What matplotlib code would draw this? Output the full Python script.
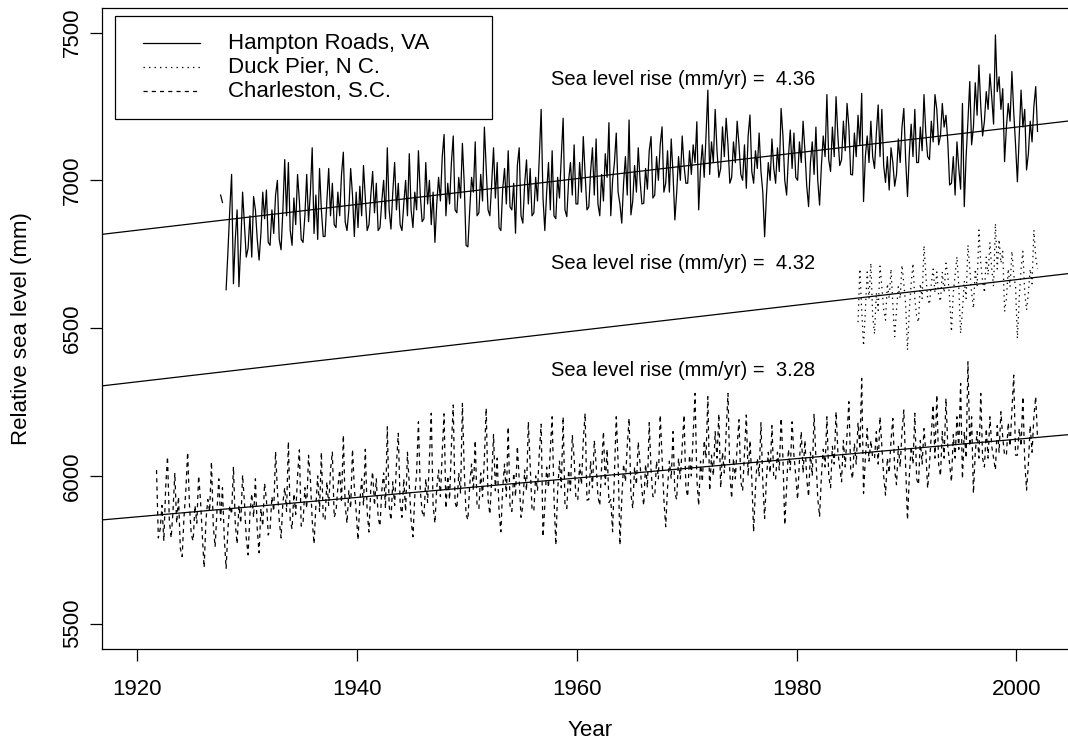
import numpy as np
import matplotlib
matplotlib.use("Agg")
import matplotlib.pyplot as plt
from matplotlib.lines import Line2D
from matplotlib.patches import Rectangle

plt.rcParams['font.family'] = ['Liberation Sans', 'DejaVu Sans']

nan = np.nan

# ---------------- data (bi-monthly readings, mm) ----------------
station_names = ["Hampton Roads, VA", "Duck Pier, N C.", "Charleston, S.C."]
rise_rates = [4.36, 4.32, 3.28]          # mm/yr (trend slopes)
level_2000 = [7180, 6664, 6124]          # trend level at year 2000
per_year = 6

hampton_start = 1927
hampton = [
    nan, nan, nan, 6950, 6925, nan,          # 1927
    6630, 6760, 6900, 7020, 6650, 6800,      # 1928
    6900, 6640, 6780, 6960, 6850, 6740,      # 1929
    6770, 6880, 6740, 6945, 6900, 6800,      # 1930
    6730, 6820, 6960, 6870, 6967, 6790,      # 1931
    6780, 6900, 6820, 6950, 7000, 6800,      # 1932
    6765, 6900, 7070, 6880, 7060, 6830,      # 1933
    6780, 6940, 6850, 7020, 6930, 6800,      # 1934
    6790, 6880, 7020, 6860, 6960, 7110,      # 1935
    6820, 6950, 6800, 7040, 6900, 6810,      # 1936
    6810, 6930, 7040, 6880, 6990, 6850,      # 1937
    6840, 6960, 6880, 7020, 7095, 6860,      # 1938
    6830, 6900, 7040, 6950, 6810, 6960,      # 1939
    6840, 6980, 6880, 7050, 6940, 6830,      # 1940
    6850, 6950, 7030, 6890, 6990, 6830,      # 1941
    6840, 6930, 7000, 6870, 7110, 6900,      # 1942
    6835, 6960, 7060, 6900, 6990, 6850,      # 1943
    6830, 6920, 7000, 6880, 7090, 6900,      # 1944
    6840, 6960, 6900, 7100, 6950, 6860,      # 1945
    6870, 7060, 6920, 7000, 6850, 6960,      # 1946
    6790, 6920, 7010, 6930, 7080, 7155,      # 1947
    6880, 6990, 6920, 7060, 7150, 6900,      # 1948
    6890, 7010, 6940, 7125, 6990, 6780,      # 1949
    6775, 6900, 7010, 6960, 7130, 6880,      # 1950
    6890, 7020, 6930, 7180, 7040, 6900,      # 1951
    6880, 6990, 7110, 6940, 7060, 6840,      # 1952
    6830, 6970, 7040, 6920, 7100, 6910,      # 1953
    6900, 6990, 6821, 7050, 7110, 6880,      # 1954
    6855, 6990, 7069, 6920, 7040, 6880,      # 1955
    6890, 7010, 6930, 7080, 7240, 6940,      # 1956
    6830, 6960, 7060, 6900, 7100, 6880,      # 1957
    6870, 7010, 6940, 7080, 7210, 6900,      # 1958
    6877, 7000, 7060, 6950, 7120, 6920,      # 1959
    6920, 7060, 6960, 7148, 7020, 6900,      # 1960
    6910, 7030, 7110, 6950, 7140, 6920,      # 1961
    6880, 7020, 6930, 7090, 7010, 7195,      # 1962
    6880, 7000, 7060, 7160, 6960, 6920,      # 1963
    6855, 6990, 7080, 6950, 7204, 6883,      # 1964
    6930, 7050, 6960, 7110, 7000, 6920,      # 1965
    6922, 7040, 6970, 7100, 7148, 6940,      # 1966
    6950, 7080, 7000, 7120, 7181, 6960,      # 1967
    6990, 7100, 6960, 7140, 7020, 6866,      # 1968
    6960, 7080, 7000, 7150, 7050, 6990,      # 1969
    6990, 7100, 7020, 7120, 7060, 7198,      # 1970
    6900, 7040, 7120, 7010, 7150, 7305,      # 1971
    7020, 7130, 7060, 7240, 7100, 7010,      # 1972
    7040, 7181, 7080, 7210, 7120, 6990,      # 1973
    7010, 7130, 7060, 7200, 7120, 7020,      # 1974
    7000, 7120, 6973, 7150, 7221, 7030,      # 1975
    6990, 7100, 7040, 7160, 7030, 6960,      # 1976
    6809, 6950, 7060, 7000, 7140, 7040,      # 1977
    6990, 7110, 7030, 7243, 7150, 7000,      # 1978
    6950, 7080, 7170, 7040, 7160, 7010,      # 1979
    7000, 7130, 7060, 7200, 7100, 6980,      # 1980
    6911, 7060, 7130, 7020, 7180, 7000,      # 1981
    6916, 7050, 7150, 7080, 7290, 7070,      # 1982
    7030, 7180, 7080, 7283, 7150, 7050,      # 1983
    7070, 7200, 7100, 7260, 7180, 7020,      # 1984
    7018, 7160, 7080, 7220, 7120, 7294,      # 1985
    6928, 7080, 7150, 7060, 7200, 7080,      # 1986
    7040, 7160, 7255, 7080, 7240, 7050,      # 1987
    6993, 7080, 6967, 7110, 7060, 6980,      # 1988
    7020, 7140, 7060, 7180, 7243, 7070,      # 1989
    6945, 7090, 7190, 7080, 7240, 7060,      # 1990
    7060, 7180, 7100, 7290, 7160, 7080,      # 1991
    7070, 7200, 7130, 7290, 7240, 7120,      # 1992
    7150, 7260, 7180, 7220, 7130, 6984,      # 1993
    6990, 7080, 6950, 7130, 7040, 6970,      # 1994
    7260, 6911, 7080, 7200, 7334, 7120,      # 1995
    7180, 7330, 7220, 7390, 7250, 7150,      # 1996
    7200, 7300, 7240, 7360, 7280, 7190,      # 1997
    7492, 7300, 7350, 7240, 7310, 7063,      # 1998
    7180, 7260, 7200, 7368, 7230, 7120,      # 1999
    6995, 7150, 7305, 7180, 7240, 7035,      # 2000
    7090, 7200, 7130, 7250, 7317, 7165,      # 2001
]

duck_start = 1985
duck = [
    nan, nan, nan, 6520, 6700, 6560,         # 1985
    6440, 6560, 6690, 6600, 6720, 6540,      # 1986
    6480, 6620, 6560, 6710, 6640, 6560,      # 1987
    6527, 6650, 6600, 6700, 6580, 6471,      # 1988
    6560, 6640, 6600, 6713, 6650, 6580,      # 1989
    6426, 6560, 6650, 6719, 6600, 6540,      # 1990
    6520, 6650, 6600, 6779, 6680, 6600,      # 1991
    6580, 6650, 6700, 6620, 6690, 6610,      # 1992
    6590, 6690, 6620, 6720, 6680, 6600,      # 1993
    6488, 6620, 6680, 6742, 6640, 6482,      # 1994
    6560, 6660, 6600, 6781, 6700, 6620,      # 1995
    6567, 6700, 6640, 6832, 6720, 6660,      # 1996
    6620, 6740, 6680, 6790, 6700, 6640,      # 1997
    6854, 6700, 6800, 6720, 6760, 6556,      # 1998
    6600, 6700, 6640, 6760, 6680, 6640,      # 1999
    6465, 6600, 6700, 6760, 6620, 6561,      # 2000
    6620, 6700, 6650, 6832, 6740, 6700,      # 2001
]

charleston_start = 1921
charleston = [
    nan, nan, nan, nan, 6020, 5790,          # 1921
    5820, 5900, 5780, 5960, 6065, 5850,      # 1922
    5790, 5880, 6010, 5840, 5930, 5755,      # 1923
    5727, 5860, 5950, 6080, 5900, 5800,      # 1924
    5780, 5900, 5840, 6000, 5920, 5800,      # 1925
    5690, 5850, 5920, 5880, 6048, 5830,      # 1926
    5760, 5880, 5990, 5850, 5960, 5790,      # 1927
    5687, 5820, 5900, 5870, 6031, 5840,      # 1928
    5770, 5900, 5840, 6003, 5910, 5790,      # 1929
    5733, 5870, 5940, 5860, 5990, 5820,      # 1930
    5740, 5890, 5830, 5975, 5920, 5800,      # 1931
    5820, 5930, 5880, 6082, 5950, 5850,      # 1932
    5790, 5910, 5960, 5880, 6116, 5850,      # 1933
    5820, 5940, 5870, 6000, 6088, 5830,      # 1934
    5840, 5960, 5890, 6070, 5990, 5850,      # 1935
    5770, 5900, 6000, 5880, 6080, 5860,      # 1936
    5850, 5980, 5900, 6020, 6082, 5860,      # 1937
    5880, 5960, 6020, 5910, 6138, 5900,      # 1938
    5840, 5950, 5890, 6090, 5960, 5880,      # 1939
    5783, 5910, 5990, 5900, 6090, 5880,      # 1940
    5810, 5960, 6014, 5900, 5990, 5860,      # 1941
    5830, 5950, 6010, 5890, 6166, 5900,      # 1942
    5850, 5980, 5900, 6040, 6144, 5910,      # 1943
    5860, 5990, 5880, 6080, 5970, 5850,      # 1944
    5794, 5930, 6010, 6183, 5950, 5880,      # 1945
    5860, 5990, 5910, 6060, 6212, 5900,      # 1946
    5840, 5960, 6020, 5930, 6080, 6210,      # 1947
    5890, 6000, 5920, 6100, 6240, 5910,      # 1948
    5890, 6010, 5940, 6245, 6020, 5870,      # 1949
    5851, 5970, 6040, 5950, 6120, 5900,      # 1950
    5890, 6010, 5930, 6060, 6229, 5920,      # 1951
    5870, 5990, 6140, 5950, 6060, 5880,      # 1952
    5811, 5960, 6040, 5930, 6166, 5900,      # 1953
    5880, 6010, 5930, 6100, 5990, 5860,      # 1954
    5900, 6020, 5950, 6183, 6040, 5890,      # 1955
    5880, 6000, 5950, 6080, 6175, 5794,      # 1956
    5900, 6030, 5960, 6090, 6200, 5930,      # 1957
    5766, 5950, 6050, 5960, 6200, 5900,      # 1958
    5890, 6020, 5950, 6138, 6060, 5920,      # 1959
    5920, 6040, 5970, 6120, 6212, 5918,      # 1960
    5920, 6050, 5960, 6120, 6040, 5930,      # 1961
    5900, 6030, 6150, 5970, 6090, 5910,      # 1962
    5920, 5811, 6000, 6200, 6050, 5766,      # 1963
    5920, 6040, 5980, 6100, 6195, 5940,      # 1964
    5890, 6030, 5970, 6115, 6040, 5950,      # 1965
    5900, 6040, 5960, 6180, 6020, 5930,      # 1966
    5930, 6050, 5990, 6206, 6060, 5920,      # 1967
    5828, 5960, 6050, 5990, 6150, 5940,      # 1968
    5920, 6060, 5990, 6100, 6206, 5960,      # 1969
    5930, 6070, 6000, 6140, 6279, 5990,      # 1970
    5900, 6050, 5980, 6120, 6060, 6268,      # 1971
    5950, 6070, 6000, 6150, 6060, 6210,      # 1972
    5960, 6080, 6010, 6150, 6279, 6010,      # 1973
    5924, 6060, 5990, 6100, 6190, 5980,      # 1974
    5950, 6080, 6206, 6000, 6120, 5990,      # 1975
    5811, 5960, 6060, 6000, 6180, 5980,      # 1976
    5856, 5990, 6080, 6010, 6170, 5990,      # 1977
    5990, 6080, 6020, 6195, 6060, 5834,      # 1978
    5960, 6090, 6020, 6183, 6070, 6000,      # 1979
    5920, 6050, 6150, 6010, 6120, 5990,      # 1980
    5930, 6080, 6000, 6210, 6060, 5925,      # 1981
    5862, 6000, 6090, 6030, 6200, 6000,      # 1982
    5960, 6100, 6040, 6217, 6080, 6030,      # 1983
    5980, 6120, 6030, 6140, 6251, 6020,      # 1984
    5990, 6110, 6040, 6180, 6090, 6330,      # 1985
    5941, 6060, 6160, 6050, 6120, 6060,      # 1986
    6060, 6150, 6040, 6200, 6100, 6000,      # 1987
    5935, 6060, 6010, 6120, 6194, 6020,      # 1988
    5970, 6100, 6030, 6150, 6223, 6030,      # 1989
    5851, 6000, 6100, 6040, 6212, 5990,      # 1990
    5970, 6120, 6040, 6160, 6080, 5958,      # 1991
    6040, 6140, 6240, 6060, 6274, 6040,      # 1992
    6000, 6150, 6060, 6262, 6100, 6040,      # 1993
    5980, 6140, 6060, 6200, 6090, 6313,      # 1994
    5990, 6150, 6060, 6386, 6100, 6200,      # 1995
    5941, 6080, 6150, 6060, 6279, 6060,      # 1996
    6030, 6160, 6060, 6200, 6100, 6060,      # 1997
    6020, 6170, 6080, 6217, 6130, 6070,      # 1998
    6070, 6180, 6100, 6220, 6341, 6070,      # 1999
    6070, 6160, 6100, 6268, 6050, 5952,      # 2000
    6040, 6170, 6080, 6200, 6268, 6127,      # 2001
]

x_ticks = [1920, 1940, 1960, 1980, 2000]
y_ticks = [5500, 6000, 6500, 7000, 7500]

# ---------------- figure ----------------
W, H = 1068, 746
fig = plt.figure(figsize=(W / 100, H / 100), dpi=100)
ax_l, ax_r, ax_t, ax_b = 102, 1079, 8, 649
ax = fig.add_axes([ax_l / W, 1 - ax_b / H, (ax_r - ax_l) / W, (ax_b - ax_t) / H])

styles = ['-', (0, (1.1, 3.3)), (0, (3.3, 3.3))]
series = [(hampton_start, hampton), (duck_start, duck), (charleston_start, charleston)]
for (start, vals), ls in zip(series, styles):
    v = np.asarray(vals, dtype=float)
    t = start + (np.arange(len(v)) + 0.5) / per_year
    ax.plot(t, v, color='black', lw=0.9, linestyle=ls)

for rate, lev in zip(rise_rates, level_2000):
    ax.axline((2000, lev), slope=rate, color='black', lw=0.9)

label_pos = [(1969.7, 7342), (1969.7, 6719), (1969.7, 6355)]
for rate, (xp, yp) in zip(rise_rates, label_pos):
    ax.text(xp, yp, f"Sea level rise (mm/yr) =  {rate:.2f}", ha='center', va='center',
            fontsize=14.5)

ax.set_xlim(1916.79, 1916.79 + (ax_r - ax_l) / 10.99)
ax.set_ylim(5414.4, 7582.9)
ax.set_xticks(x_ticks)
ax.set_xticklabels([str(v) for v in x_ticks], fontsize=16)
ax.set_yticks(y_ticks)
ax.set_yticklabels([str(v) for v in y_ticks], fontsize=16, rotation=90, va='center')
ax.tick_params(axis='both', direction='out', length=8.8, width=0.9, color='black')
ax.tick_params(axis='x', pad=12.5)
ax.tick_params(axis='y', pad=5)
for s in ax.spines.values():
    s.set_linewidth(0.9)
    s.set_color('black')

fig.text(22 / W, 1 - 328.5 / H, "Relative sea level (mm)", rotation=90,
         ha='center', va='center', fontsize=16)
fig.text(590 / W, 1 - 731 / H, "Year", ha='center', va='center', fontsize=16)

# legend (drawn manually to match the boxed R-style legend)
fig.add_artist(Rectangle((115 / W, 1 - 119.3 / H), (492 - 115) / W, (119.3 - 16) / H,
                         transform=fig.transFigure, facecolor='white',
                         edgecolor='black', lw=0.9))
for i, (name, ls) in enumerate(zip(station_names, styles)):
    yy = 1 - (43 + 24 * i) / H
    fig.add_artist(Line2D([142.7 / W, 200 / W], [yy, yy], transform=fig.transFigure,
                          color='black', lw=0.9, linestyle=ls))
    fig.text(228 / W, yy, name, ha='left', va='center', fontsize=16)

fig.savefig("out.png", dpi=100)
